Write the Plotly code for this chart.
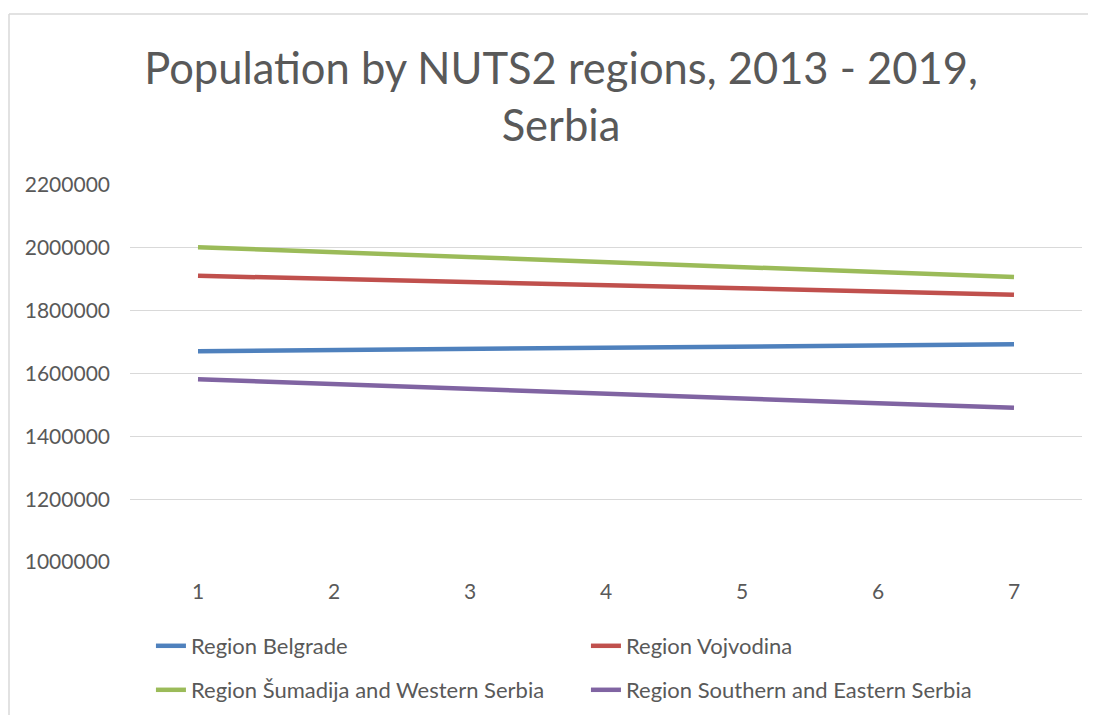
import plotly.graph_objects as go

periods = [1, 2, 3, 4, 5, 6, 7]
belgrade = [1671000, 1675000, 1679000, 1683000, 1686000, 1689000, 1693000]
vojvodina = [1911000, 1901000, 1891000, 1881000, 1870000, 1860000, 1851000]
sumadija = [2002000, 1986000, 1970000, 1955000, 1939000, 1923000, 1907000]
southern = [1582000, 1566000, 1550000, 1535000, 1520000, 1505000, 1491000]

series_names = ["Region Belgrade", "Region Vojvodina",
                "Region Šumadija and Western Serbia", "Region Southern and Eastern Serbia"]
series_values = [belgrade, vojvodina, sumadija, southern]
colors = ["#4F81BD", "#C0504D", "#9BBB59", "#8064A2"]
legend_ids = ["legend", "legend", "legend2", "legend2"]
y_ticks = [1000000, 1200000, 1400000, 1600000, 1800000, 2000000, 2200000]

FONT = "Lato"
TXT = "#595959"

W, H = 1088, 707
L, R, T, B = 122, 14, 177, 153
PH = H - T - B
PW = W - L - R

fig = go.Figure()
for name, vals, col, lg in zip(series_names, series_values, colors, legend_ids):
    fig.add_trace(go.Scatter(x=periods, y=vals, mode="lines", name=name,
                             line=dict(color=col, width=4.5), legend=lg))

leg_common = dict(orientation="h", x=0.022, xanchor="left", yanchor="middle",
                  yref="container",
                  entrywidth=390, entrywidthmode="pixels",
                  font=dict(family=FONT, size=22, color=TXT),
                  bgcolor="rgba(0,0,0,0)", itemwidth=30, traceorder="normal")

bx = (1 - L) / PW
by = (H - B - 6) / PH

fig.update_layout(
    width=W, height=H,
    paper_bgcolor="white", plot_bgcolor="white",
    margin=dict(l=L, r=R, t=T, b=B, autoexpand=False),
    title=dict(text="Population by NUTS2 regions, 2013 - 2019,<br>Serbia",
               x=553 / W, xanchor="center", xref="container", y=1 - 76 / H, yref="container",
               yanchor="middle",
               font=dict(family=FONT, size=43.5, color=TXT)),
    legend=dict(y=1 - 638 / H, **leg_common),
    legend2=dict(y=1 - 682 / H, **leg_common),
    xaxis=dict(range=[0.5, 7.5], tickvals=periods, showgrid=False, zeroline=False,
               showline=False, ticks="", ticklabelstandoff=15,
               tickfont=dict(family=FONT, size=21, color=TXT)),
    yaxis=dict(range=[1000000, 2200000], tickvals=y_ticks, tickformat="d",
               showgrid=True, gridcolor="#D9D9D9", gridwidth=1, zeroline=False,
               showline=False, ticks="", ticklabelstandoff=19,
               tickfont=dict(family=FONT, size=21, color=TXT)),
    shapes=[
        dict(type="line", xref="paper", yref="paper", x0=bx, x1=1.1,
             y0=by, y1=by, line=dict(color="#D9D9D9", width=1.5)),
        dict(type="line", xref="paper", yref="paper", x0=bx, x1=bx,
             y0=by, y1=-0.5, line=dict(color="#D9D9D9", width=1.5)),
    ],
)

fig.write_html("out.html")
